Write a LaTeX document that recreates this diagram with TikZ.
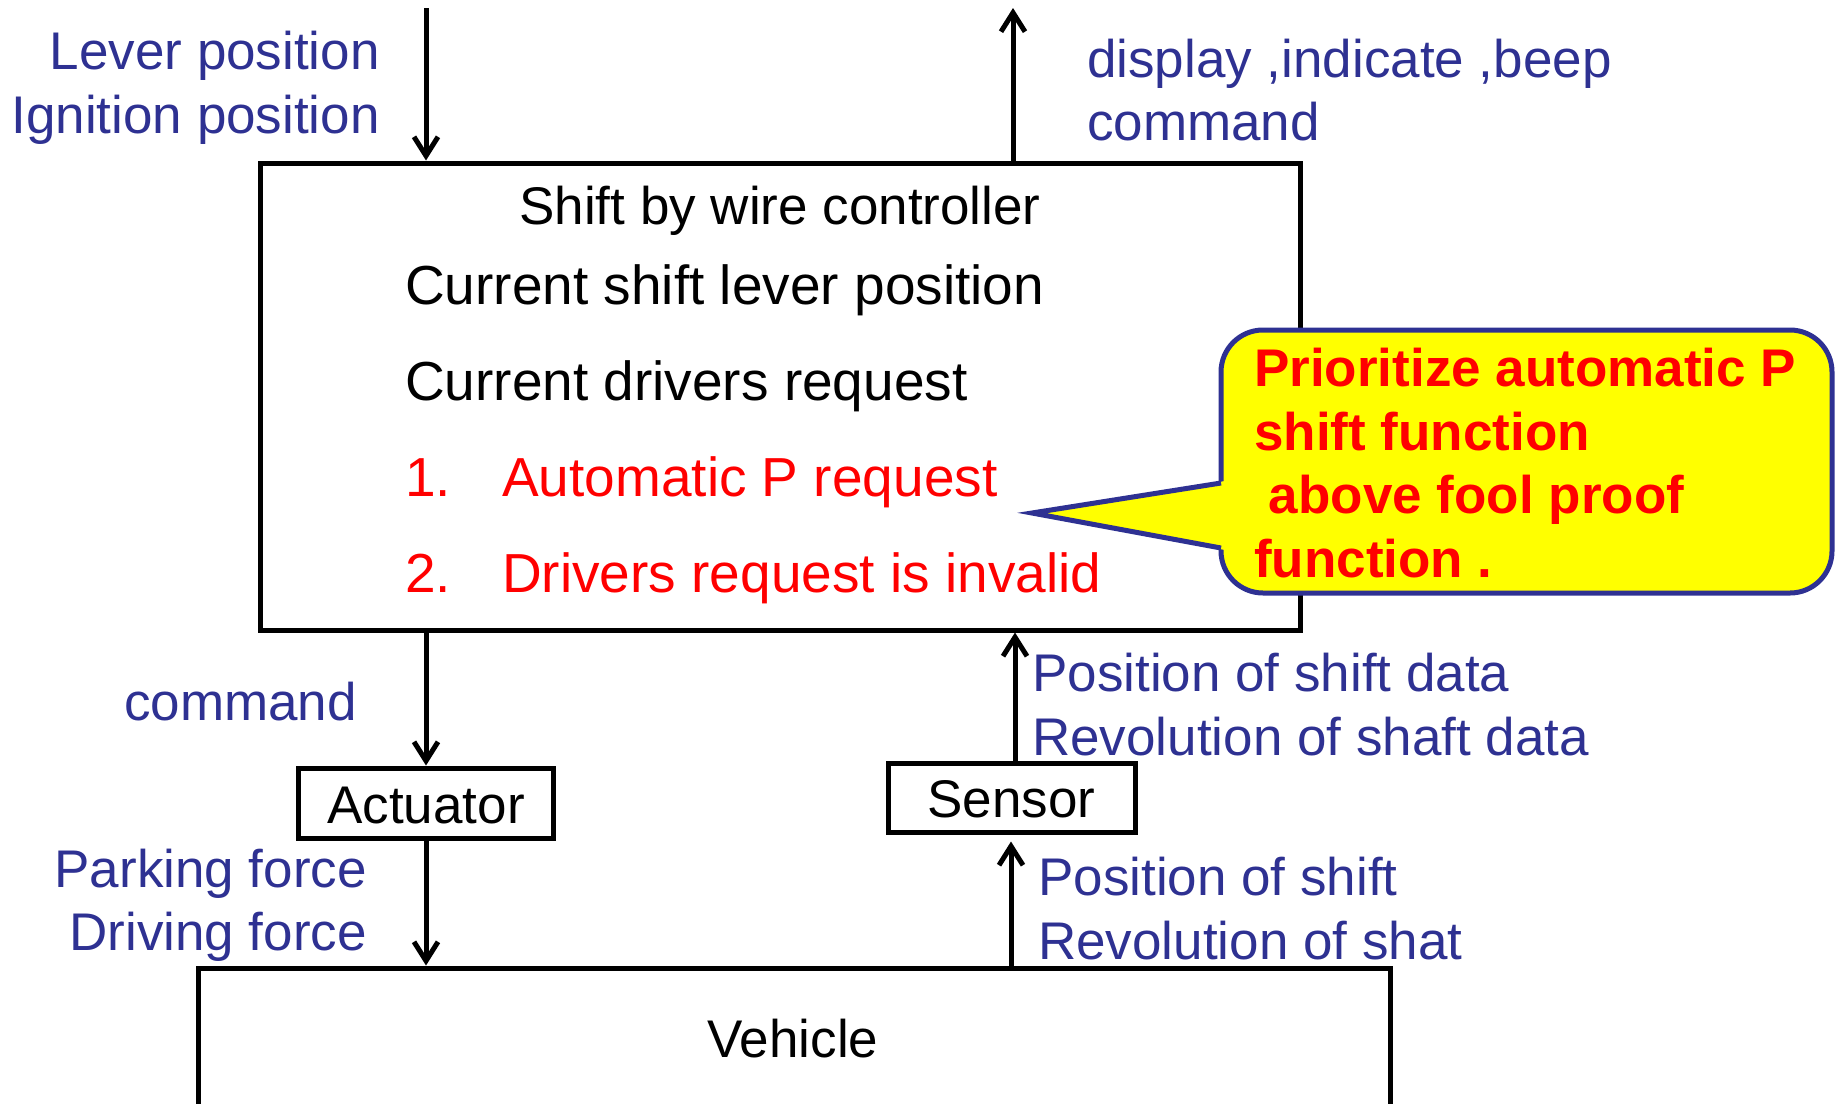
\documentclass[tikz,border=0pt]{standalone}
\usepackage{fontspec}
\setmainfont{Liberation Sans}
\usetikzlibrary{arrows.meta,calc}
\definecolor{lblue}{RGB}{46,49,146}
\definecolor{calloutyellow}{RGB}{255,255,0}
\definecolor{alertred}{RGB}{255,0,0}
\newcommand{\bigtext}{\fontsize{53}{64}\selectfont}
\newcommand{\listtext}{\fontsize{55}{66}\selectfont}
\tikzset{
  box/.style={draw=black, line width=5pt, fill=white, inner sep=0pt},
  lbl/.style={text=lblue, font=\bigtext, inner sep=0pt},
  blk/.style={text=black, font=\bigtext, inner sep=0pt},
  item/.style={font=\listtext, inner sep=0pt, anchor=base west},
  arr/.style={line width=5pt, -{Straight Barb[length=19pt,width=24pt]}},
  calloutbox/.style={draw=lblue, fill=calloutyellow, line width=5pt, rounded corners=42pt, inner sep=0pt},
  callouttext/.style={text=alertred, font=\bigtext\bfseries, inner sep=0pt, anchor=base west}
}
\begin{document}
\begin{tikzpicture}[x=1pt,y=-1pt]
\useasboundingbox (0,0) rectangle (1835,1103);

% controller
\node[box, minimum width=1040pt, minimum height=467pt] (ctrl) at (780,396.5) {};
\node[blk, anchor=base] (ctrltitle) at (780,224) {Shift by wire controller};
\node[item] (l1) at (405,304) {Current shift lever position};
\node[item] (l2) at (405,400) {Current drivers request};
\node[item, text=alertred] (n1) at (405,496) {1.};
\node[item, text=alertred] (l3) at (502,496) {Automatic P request};
\node[item, text=alertred] (n2) at (405,592) {2.};
\node[item, text=alertred] (l4) at (502,592) {Drivers request is invalid};

% actuator, sensor, vehicle
\node[box, minimum width=255pt, minimum height=70pt] (act) at (426,803) {};
\node[blk, anchor=base] (acttext) at (426,823) {Actuator};
\node[box, minimum width=247pt, minimum height=69pt] (sen) at (1011.5,797.5) {};
\node[blk, anchor=base] (sentext) at (1011.5,817) {Sensor};
\node[box, minimum width=1192pt, minimum height=200pt] (veh) at (794,1068) {};
\node[blk, anchor=base] (vehtext) at (793,1057) {Vehicle};

% signal lines
\coordinate (inTop) at (426,8);
\coordinate (outTop) at (1013,8);
\draw[arr] (inTop) -- (inTop |- ctrl.north);
\draw[arr] (ctrl.north -| outTop) -- (outTop);
\draw[arr] (ctrl.south -| act.north) -- (act.north);
\draw[arr] (act.south) -- (act.south |- veh.north);
\coordinate (senUp) at (1015,0);
\coordinate (senIn) at (1011,0);
\draw[arr] (sen.north -| senUp) -- (ctrl.south -| senUp);
\draw[arr] (veh.north -| senIn) -- ($(sen.south -| senIn)+(0,7)$);

% labels
\node[lbl, anchor=base east] (lev) at (380,69) {Lever position};
\node[lbl, anchor=base east] (ign) at (380,133) {Ignition position};
\node[lbl, anchor=base west] (disp) at (1087,77) {display ,indicate ,beep};
\node[lbl, anchor=base west] (dcmd) at (1087,140) {command};
\node[lbl, anchor=base east] (cmd) at (357,720) {command};
\node[lbl, anchor=base east] (park) at (367,887) {Parking force};
\node[lbl, anchor=base east] (drive) at (367,950) {Driving force};
\node[lbl, anchor=base west] (psd) at (1032,691) {Position of shift data};
\node[lbl, anchor=base west] (rsd) at (1032,755) {Revolution of shaft data};
\node[lbl, anchor=base west] (ps) at (1038,895) {Position of shift};
\node[lbl, anchor=base west] (rs) at (1038,959) {Revolution of shat};

% callout
\node[calloutbox, minimum width=611pt, minimum height=263pt] (callout) at (1526.5,461.5) {};
\coordinate (tip) at (1032,513);
\coordinate (baseU) at (1221,483);
\coordinate (baseL) at (1221,548);
\fill[calloutyellow] ($(baseU)+(4,-2)$) -- (tip) -- ($(baseL)+(4,2)$) -- cycle;
\draw[draw=lblue, line width=5pt, line join=miter] (baseU) -- (tip) -- (baseL);
\node[callouttext] (c1) at (1254,386) {Prioritize automatic P};
\node[callouttext] (c2) at (1254,450) {shift function};
\node[callouttext] (c3) at (1254,513) {\hspace*{0.278em}above fool proof};
\node[callouttext] (c4) at (1254,577) {function .};
\end{tikzpicture}
\end{document}
